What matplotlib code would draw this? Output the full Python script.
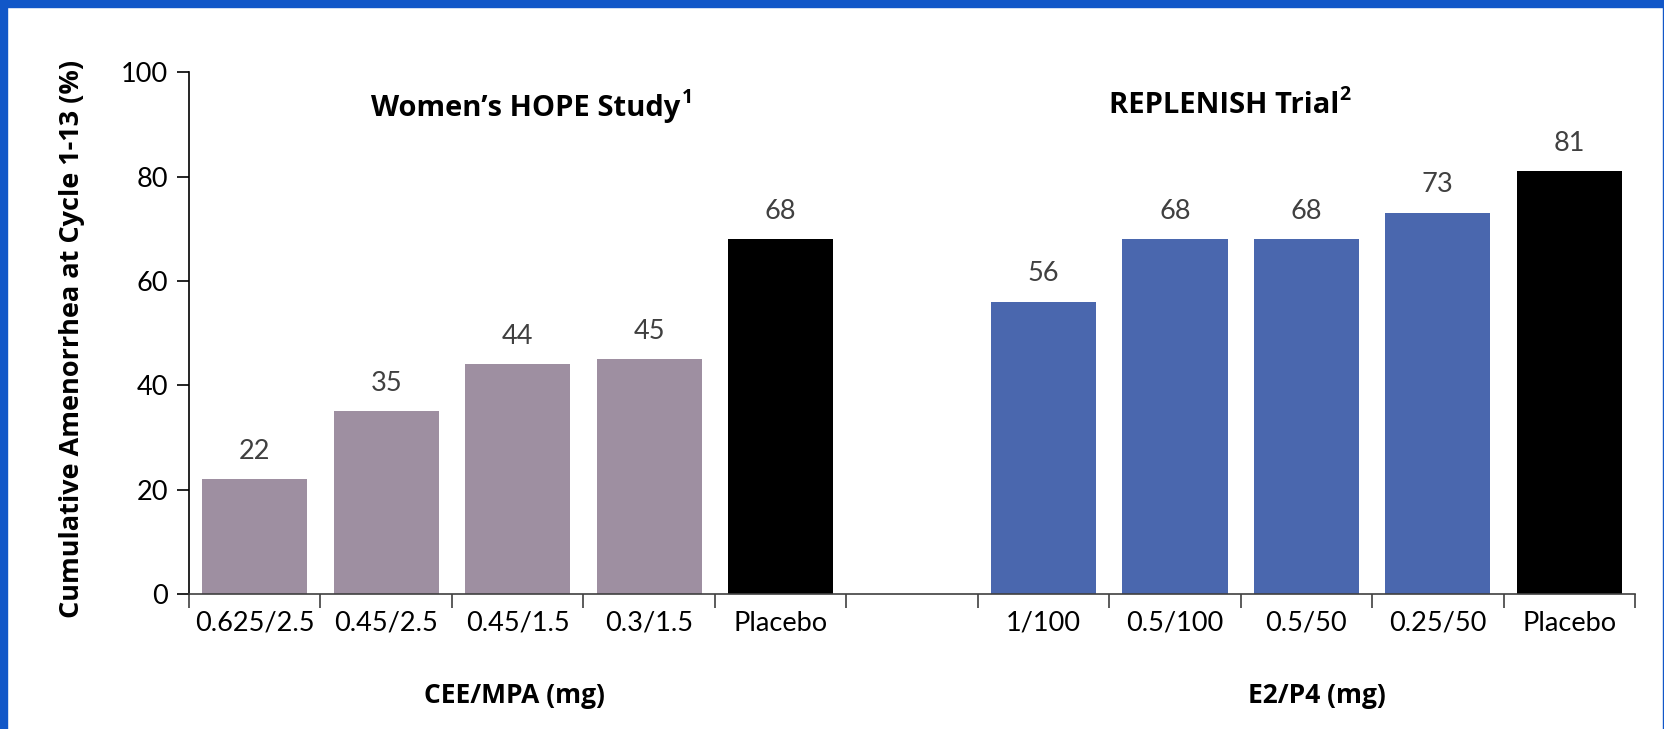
import matplotlib.pyplot as plt
from matplotlib.patches import Rectangle

plt.rcParams['font.family'] = ['Lato', 'DejaVu Sans']

categories = ['0.625/2.5', '0.45/2.5', '0.45/1.5', '0.3/1.5', 'Placebo', '',
              '1/100', '0.5/100', '0.5/50', '0.25/50', 'Placebo']
values = [22, 35, 44, 45, 68, None, 56, 68, 68, 73, 81]
colors = ['#9E8FA1', '#9E8FA1', '#9E8FA1', '#9E8FA1', '#000000', 'none',
          '#4A67AE', '#4A67AE', '#4A67AE', '#4A67AE', '#000000']

bold_font = ['Open Sans', 'DejaVu Sans']

fig = plt.figure(figsize=(16.65, 7.29), dpi=100)
ax = fig.add_axes([0.1135, 0.185, 0.8685, 0.716])

x = list(range(len(categories)))
for xi, v, c in zip(x, values, colors):
    if v is None:
        continue
    ax.bar(xi, v, width=0.8, color=c, zorder=2)
    ax.text(xi, v + 3, str(v), ha='center', va='bottom', fontsize=19.5, color='#404040')

ax.set_xlim(-0.5, len(categories) - 0.5)
ax.set_ylim(0, 100)
ax.set_yticks([0, 20, 40, 60, 80, 100])
ax.tick_params(axis='y', labelsize=19.5, length=9, width=1.2, direction='out', pad=6)

# category labels between boundary ticks
ax.set_xticks([i - 0.5 for i in range(len(categories) + 1)])
ax.set_xticklabels([])
ax.tick_params(axis='x', length=10, width=1.2, direction='out', color='#404040')
ax.set_xticks(x, minor=True)
ax.set_xticklabels(categories, minor=True)
ax.tick_params(axis='x', which='minor', length=0, labelsize=19.5, pad=12)

for s in ['top', 'right']:
    ax.spines[s].set_visible(False)
ax.spines['left'].set_linewidth(1.2)
ax.spines['bottom'].set_linewidth(1.2)
ax.spines['bottom'].set_color('#404040')

fig.text(0.043, 0.535, 'Cumulative Amenorrhea at Cycle 1-13 (%)', rotation=90,
         ha='center', va='center', fontsize=19.5, fontweight='bold', family=bold_font)


def title_with_sup(xf, yf, text, sup):
    t = fig.text(xf, yf, text, ha='center', va='center', fontsize=21,
                 fontweight='bold', family=bold_font)
    ax.annotate(sup, xy=(1, 0.52), xycoords=t, xytext=(0.5, 0), textcoords='offset points',
                ha='left', va='bottom', fontsize=14, fontweight='bold', family=bold_font,
                annotation_clip=False)


title_with_sup(0.316, 0.851, 'Women\u2019s HOPE Study', '1')
title_with_sup(0.735, 0.855, 'REPLENISH Trial', '2')
fig.text(0.309, 0.046, 'CEE/MPA (mg)', ha='center', va='center', fontsize=19,
         fontweight='bold', family=bold_font)
fig.text(0.791, 0.046, 'E2/P4 (mg)', ha='center', va='center', fontsize=19,
         fontweight='bold', family=bold_font)

# blue frame
blue = '#1157C8'
fig.patches.append(Rectangle((0, 0), 0.0045, 1, transform=fig.transFigure, color=blue, zorder=5))
fig.patches.append(Rectangle((0, 0.99), 1, 0.01, transform=fig.transFigure, color=blue, zorder=5))
fig.patches.append(Rectangle((0.9988, 0), 0.0012, 1, transform=fig.transFigure, color=blue, zorder=5))

fig.savefig('out.png', dpi=100)
